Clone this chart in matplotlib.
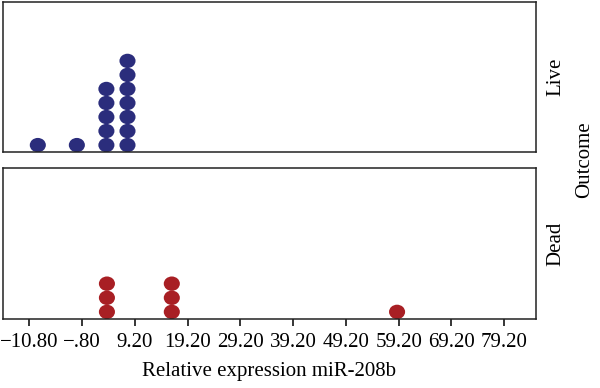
import matplotlib
matplotlib.use("Agg")
import matplotlib.pyplot as plt
from matplotlib.patches import Ellipse

plt.rcParams['font.family'] = ['Liberation Serif', 'DejaVu Serif']

# dot plot data: bin centre on the x axis and number of stacked dots
live_x = [-9.2, -1.8, 3.8, 7.8]
live_n = [1, 1, 5, 7]
dead_x = [3.9, 16.2, 58.9]
dead_n = [3, 3, 1]

tick_vals = [-10.8, -0.8, 9.2, 19.2, 29.2, 39.2, 49.2, 59.2, 69.2, 79.2]
tick_labels = ["\u221210.80", "\u2212.80", "9.20", "19.20", "29.20",
               "39.20", "49.20", "59.20", "69.20", "79.20"]

live_color = "#2b2d7c"
dead_color = "#a81f24"

fig = plt.figure(figsize=(6.0, 3.88), dpi=100)
ax_top = fig.add_axes([0.005, 0.608, 0.888, 0.387])
ax_bot = fig.add_axes([0.005, 0.178, 0.888, 0.389])

xlim = (-15.8, 85.2)
ylim = (0, 10.7)


def draw_dots(ax, xs, ns, color):
    for x, n in zip(xs, ns):
        for k in range(n):
            ax.add_patch(Ellipse((x, 0.5 + k), 3.05, 1.02, facecolor=color,
                                 edgecolor="none"))


for ax in (ax_top, ax_bot):
    ax.set_xlim(*xlim)
    ax.set_ylim(*ylim)
    ax.set_yticks([])
    for s in ax.spines.values():
        s.set_linewidth(1.1)
        s.set_color("#222222")

draw_dots(ax_top, live_x, live_n, live_color)
draw_dots(ax_bot, dead_x, dead_n, dead_color)

ax_top.set_xticks([])
ax_bot.set_xticks(tick_vals)
ax_bot.set_xticklabels(tick_labels, fontsize=15)
ax_bot.tick_params(axis="x", direction="out", length=5, width=1.1, pad=5)
ax_bot.set_xlabel("Relative expression miR-208b", fontsize=15, labelpad=7)

fig.text(0.926, 0.801, "Live", rotation=90, ha="center", va="center", fontsize=15)
fig.text(0.926, 0.372, "Dead", rotation=90, ha="center", va="center", fontsize=15)
fig.text(0.974, 0.588, "Outcome", rotation=90, ha="center", va="center", fontsize=15)

fig.savefig("out.png", dpi=100)
